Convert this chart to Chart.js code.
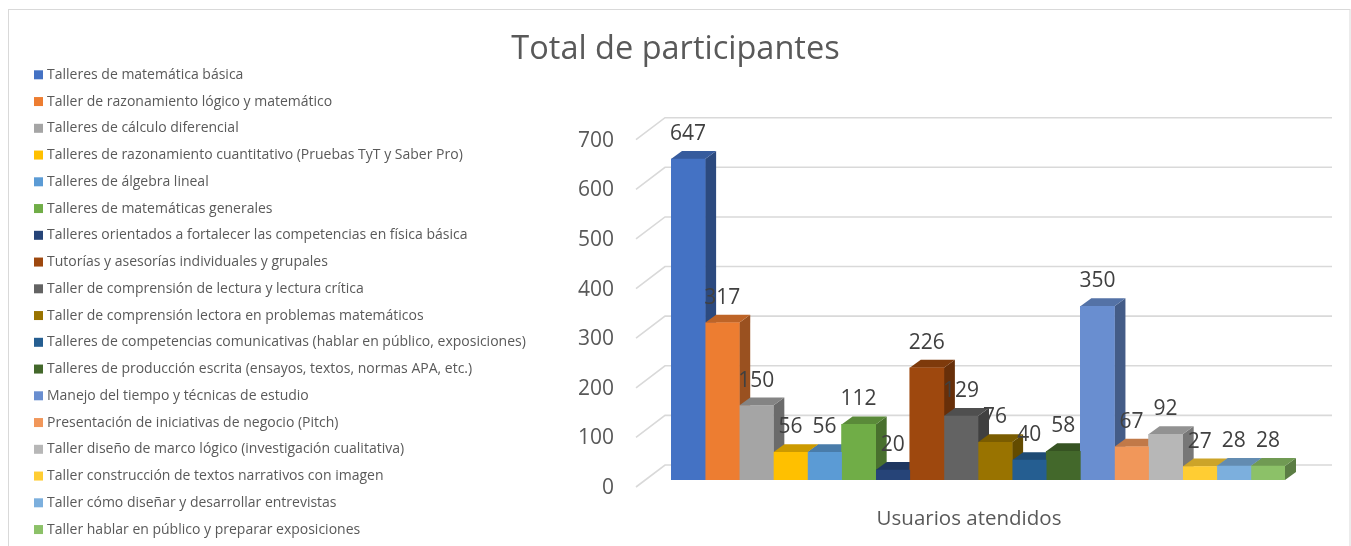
<!DOCTYPE html>
<html>
<head>
<meta charset="utf-8">
<title>Total de participantes</title>
<script src="https://cdn.jsdelivr.net/npm/chart.js@4.4.1/dist/chart.umd.min.js"></script>
<style>
  body { margin: 0; background: #ffffff; }
</style>
</head>
<body>
<canvas id="participantsChart" width="1351" height="546"></canvas>
<script>
const FONT = "'Open Sans', sans-serif";

const categories = ['Usuarios atendidos'];

const programNames = [
    'Talleres de matemática básica',
    'Taller de razonamiento lógico y matemático',
    'Talleres de cálculo diferencial',
    'Talleres de razonamiento cuantitativo (Pruebas TyT y Saber Pro)',
    'Talleres de álgebra lineal',
    'Talleres de matemáticas generales',
    'Talleres orientados a fortalecer las competencias en física básica',
    'Tutorías y asesorías individuales y grupales',
    'Taller de comprensión de lectura y lectura crítica',
    'Taller de comprensión lectora en problemas matemáticos',
    'Talleres de competencias comunicativas (hablar en público, exposiciones)',
    'Talleres de producción escrita (ensayos, textos, normas APA, etc.)',
    'Manejo del tiempo y técnicas de estudio',
    'Presentación de iniciativas de negocio (Pitch)',
    'Taller diseño de marco lógico (investigación cualitativa)',
    'Taller construcción de textos narrativos con imagen',
    'Taller cómo diseñar y desarrollar entrevistas',
    'Taller hablar en público y preparar exposiciones'
];

const participants = [647, 317, 150, 56, 56, 112, 20, 226, 129, 76, 40, 58, 350, 67, 92, 27, 28, 28];

const seriesColors = [
    '#4472C4', '#ED7D31', '#A5A5A5', '#FFC000', '#5B9BD5', '#70AD47',
    '#264478', '#9E480E', '#636363', '#997300', '#255E91', '#43682B',
    '#698ED0', '#F1975A', '#B7B7B7', '#FFCD33', '#7CAFDD', '#8CC168'
];

const yTicks = [0, 100, 200, 300, 400, 500, 600, 700];

// depth of the 3D boxes and the back wall, in pixels
const BAR_DX = 11, BAR_DY = 8;
const WALL_DX = -6, WALL_DY = 15;
const FLOOR_DX = -35, FLOOR_DY = 7;
const WALL_RIGHT = 47;

function shade(hex, f) {
    const n = parseInt(hex.slice(1), 16);
    const r = Math.round(((n >> 16) & 255) * f);
    const g = Math.round(((n >> 8) & 255) * f);
    const b = Math.round((n & 255) * f);
    return `rgb(${r}, ${g}, ${b})`;
}

// gridlines on the back wall, then top and side faces of each box
const boxes3d = {
    id: 'boxes3d',
    beforeDatasetsDraw(chart) {
        const { ctx, chartArea } = chart;
        const yScale = chart.scales.y;
        ctx.save();
        ctx.strokeStyle = '#D9D9D9';
        ctx.lineWidth = 1.6;
        yTicks.forEach(v => {
            const y = yScale.getPixelForValue(v);
            ctx.beginPath();
            ctx.moveTo(chartArea.left + FLOOR_DX, y + FLOOR_DY);
            ctx.lineTo(chartArea.left + WALL_DX, y - WALL_DY);
            ctx.lineTo(chartArea.right + WALL_RIGHT, y - WALL_DY);
            ctx.stroke();
        });

        chart.data.datasets.forEach((ds, i) => {
            const el = chart.getDatasetMeta(i).data[0];
            const { x, y, base, width } = el.getProps(['x', 'y', 'base', 'width'], true);
            const x0 = x - width / 2, x1 = x + width / 2;
            // side face
            ctx.fillStyle = shade(seriesColors[i], 0.65);
            ctx.beginPath();
            ctx.moveTo(x1, y);
            ctx.lineTo(x1 + BAR_DX, y - BAR_DY);
            ctx.lineTo(x1 + BAR_DX, base - BAR_DY);
            ctx.lineTo(x1, base);
            ctx.closePath();
            ctx.fill();
            // top face
            ctx.fillStyle = shade(seriesColors[i], 0.8);
            ctx.beginPath();
            ctx.moveTo(x0, y);
            ctx.lineTo(x1, y);
            ctx.lineTo(x1 + BAR_DX, y - BAR_DY);
            ctx.lineTo(x0 + BAR_DX, y - BAR_DY);
            ctx.closePath();
            ctx.fill();
        });
        ctx.restore();
    },
    afterDatasetsDraw(chart) {
        const { ctx } = chart;
        ctx.save();
        ctx.font = `21px ${FONT}`;
        ctx.fillStyle = '#404040';
        ctx.textAlign = 'center';
        ctx.textBaseline = 'middle';
        chart.data.datasets.forEach((ds, i) => {
            const el = chart.getDatasetMeta(i).data[0];
            ctx.fillText(String(ds.data[0]), el.x, el.y - 25);
        });
        ctx.restore();
    }
};

// legend column on the left plus the outer frame
const sideLegend = {
    id: 'sideLegend',
    afterDraw(chart) {
        const { ctx } = chart;
        ctx.save();
        ctx.strokeStyle = '#D9D9D9';
        ctx.lineWidth = 1;
        ctx.strokeRect(8.5, 9.5, 1341.5, 600);

        ctx.font = `14px ${FONT}`;
        ctx.textBaseline = 'middle';
        chart.data.datasets.forEach((ds, i) => {
            const y = 74.8 + i * 26.75;
            ctx.fillStyle = ds.backgroundColor;
            ctx.fillRect(34, y - 4.5, 9, 9);
            ctx.fillStyle = '#595959';
            ctx.fillText(ds.label, 47, y);
        });
        ctx.restore();
    }
};

const datasets = programNames.map((name, i) => ({
    label: name,
    data: [participants[i]],
    backgroundColor: seriesColors[i],
    borderWidth: 0
}));

new Chart(document.getElementById('participantsChart'), {
    type: 'bar',
    data: { labels: categories, datasets: datasets },
    options: {
        responsive: false,
        animation: false,
        datasets: { bar: { categoryPercentage: 1, barPercentage: 1 } },
        layout: { padding: 0 },
        plugins: {
            legend: { display: false },
            tooltip: { enabled: false },
            title: {
                display: true,
                text: 'Total de participantes',
                color: '#595959',
                font: { family: FONT, size: 32.5, weight: 'normal' },
                padding: { top: 30.5, bottom: 63.2 }
            }
        },
        scales: {
            x: {
                grid: { display: false, drawTicks: false },
                border: { display: false },
                ticks: {
                    color: '#595959',
                    font: { family: FONT, size: 20.5 },
                    padding: 27,
                    labelOffset: -9
                },
                afterFit(scale) { scale.height = 66; }
            },
            y: {
                min: 0,
                max: 700,
                grid: { display: false, drawTicks: false },
                border: { display: false },
                afterBuildTicks(scale) { scale.ticks = yTicks.map(v => ({ value: v })); },
                ticks: {
                    color: '#595959',
                    font: { family: FONT, size: 21 },
                    padding: 57,
                    labelOffset: 8
                },
                afterFit(scale) {
                    scale.width = 671;
                    scale.paddingTop = 0;
                    scale.paddingBottom = 0;
                }
            },
            // empty strip to the right of the boxes, room for their depth and the wall
            yRight: {
                type: 'linear',
                position: 'right',
                grid: { display: false, drawTicks: false },
                border: { display: false },
                ticks: { display: false },
                afterFit(scale) {
                    scale.width = 66;
                    scale.paddingTop = 0;
                    scale.paddingBottom = 0;
                }
            }
        }
    },
    plugins: [boxes3d, sideLegend]
});
</script>
</body>
</html>
